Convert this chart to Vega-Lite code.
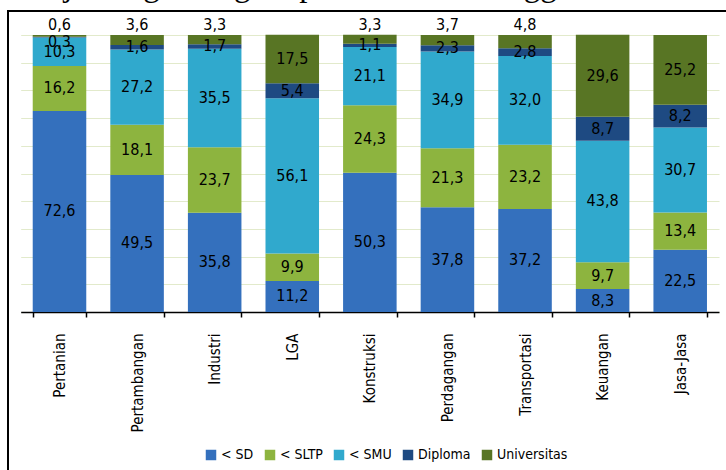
{
  "$schema": "https://vega.github.io/schema/vega-lite/v6.json",
  "autosize": "none",
  "width": 730,
  "height": 470,
  "padding": {"left": 8, "top": 11, "right": 0, "bottom": 0},
  "background": "white",
  "title": {
    "text": "erja dengan tingkat pendidikan tertinggi",
    "anchor": "start",
    "frame": "group",
    "font": "Liberation Serif",
    "fontSize": 33,
    "fontWeight": "normal",
    "color": "black",
    "baseline": "alphabetic",
    "offset": 0,
    "dy": 18,
    "dx": 30
  },
  "config": {
    "view": {"stroke": "black", "strokeWidth": 2},
    "font": "DejaVu Sans Condensed"
  },
  "data": {
    "values": [
      {"sektor": "Pertanian", "pendidikan": "< SD", "order": 1, "value": 72.6},
      {"sektor": "Pertanian", "pendidikan": "< SLTP", "order": 2, "value": 16.2},
      {"sektor": "Pertanian", "pendidikan": "< SMU", "order": 3, "value": 10.3},
      {"sektor": "Pertanian", "pendidikan": "Diploma", "order": 4, "value": 0.3},
      {"sektor": "Pertanian", "pendidikan": "Universitas", "order": 5, "value": 0.6},
      {"sektor": "Pertambangan", "pendidikan": "< SD", "order": 1, "value": 49.5},
      {"sektor": "Pertambangan", "pendidikan": "< SLTP", "order": 2, "value": 18.1},
      {"sektor": "Pertambangan", "pendidikan": "< SMU", "order": 3, "value": 27.2},
      {"sektor": "Pertambangan", "pendidikan": "Diploma", "order": 4, "value": 1.6},
      {"sektor": "Pertambangan", "pendidikan": "Universitas", "order": 5, "value": 3.6},
      {"sektor": "Industri", "pendidikan": "< SD", "order": 1, "value": 35.8},
      {"sektor": "Industri", "pendidikan": "< SLTP", "order": 2, "value": 23.7},
      {"sektor": "Industri", "pendidikan": "< SMU", "order": 3, "value": 35.5},
      {"sektor": "Industri", "pendidikan": "Diploma", "order": 4, "value": 1.7},
      {"sektor": "Industri", "pendidikan": "Universitas", "order": 5, "value": 3.3},
      {"sektor": "LGA", "pendidikan": "< SD", "order": 1, "value": 11.2},
      {"sektor": "LGA", "pendidikan": "< SLTP", "order": 2, "value": 9.9},
      {"sektor": "LGA", "pendidikan": "< SMU", "order": 3, "value": 56.1},
      {"sektor": "LGA", "pendidikan": "Diploma", "order": 4, "value": 5.4},
      {"sektor": "LGA", "pendidikan": "Universitas", "order": 5, "value": 17.5},
      {"sektor": "Konstruksi", "pendidikan": "< SD", "order": 1, "value": 50.3},
      {"sektor": "Konstruksi", "pendidikan": "< SLTP", "order": 2, "value": 24.3},
      {"sektor": "Konstruksi", "pendidikan": "< SMU", "order": 3, "value": 21.1},
      {"sektor": "Konstruksi", "pendidikan": "Diploma", "order": 4, "value": 1.1},
      {"sektor": "Konstruksi", "pendidikan": "Universitas", "order": 5, "value": 3.3},
      {"sektor": "Perdagangan", "pendidikan": "< SD", "order": 1, "value": 37.8},
      {"sektor": "Perdagangan", "pendidikan": "< SLTP", "order": 2, "value": 21.3},
      {"sektor": "Perdagangan", "pendidikan": "< SMU", "order": 3, "value": 34.9},
      {"sektor": "Perdagangan", "pendidikan": "Diploma", "order": 4, "value": 2.3},
      {"sektor": "Perdagangan", "pendidikan": "Universitas", "order": 5, "value": 3.7},
      {"sektor": "Transportasi", "pendidikan": "< SD", "order": 1, "value": 37.2},
      {"sektor": "Transportasi", "pendidikan": "< SLTP", "order": 2, "value": 23.2},
      {"sektor": "Transportasi", "pendidikan": "< SMU", "order": 3, "value": 32.0},
      {"sektor": "Transportasi", "pendidikan": "Diploma", "order": 4, "value": 2.8},
      {"sektor": "Transportasi", "pendidikan": "Universitas", "order": 5, "value": 4.8},
      {"sektor": "Keuangan", "pendidikan": "< SD", "order": 1, "value": 8.3},
      {"sektor": "Keuangan", "pendidikan": "< SLTP", "order": 2, "value": 9.7},
      {"sektor": "Keuangan", "pendidikan": "< SMU", "order": 3, "value": 43.8},
      {"sektor": "Keuangan", "pendidikan": "Diploma", "order": 4, "value": 8.7},
      {"sektor": "Keuangan", "pendidikan": "Universitas", "order": 5, "value": 29.6},
      {"sektor": "Jasa-Jasa", "pendidikan": "< SD", "order": 1, "value": 22.5},
      {"sektor": "Jasa-Jasa", "pendidikan": "< SLTP", "order": 2, "value": 13.4},
      {"sektor": "Jasa-Jasa", "pendidikan": "< SMU", "order": 3, "value": 30.7},
      {"sektor": "Jasa-Jasa", "pendidikan": "Diploma", "order": 4, "value": 8.2},
      {"sektor": "Jasa-Jasa", "pendidikan": "Universitas", "order": 5, "value": 25.2}
    ]
  },
  "encoding": {
    "x": {
      "field": "sektor",
      "type": "nominal",
      "sort": null,
      "title": null,
      "scale": {"range": [12.7, 711], "paddingInner": 0.31, "paddingOuter": 0.155},
      "axis": {
        "orient": "bottom",
        "offset": -169,
        "labelAngle": -90,
        "labelAlign": "right",
        "labelBaseline": "middle",
        "labelFontSize": 15,
        "labelFont": "DejaVu Sans Condensed",
        "labelColor": "black",
        "labelPadding": 16,
        "tickBand": "extent",
        "tickColor": "black",
        "tickSize": 5,
        "tickWidth": 1.5,
        "domainColor": "black",
        "domainWidth": 1.5,
        "grid": false
      }
    }
  },
  "layer": [
    {
      "mark": {"type": "bar"},
      "encoding": {
        "y": {
          "field": "value",
          "type": "quantitative",
          "stack": "zero",
          "scale": {"domain": [0, 100], "range": [301, 24], "nice": false, "zero": true},
          "axis": {
            "title": null,
            "labels": false,
            "ticks": false,
            "domain": false,
            "grid": true,
            "gridColor": "#e2eacb",
            "gridWidth": 1.2,
            "values": [0, 10, 20, 30, 40, 50, 60, 70, 80, 90, 100]
          }
        },
        "order": {"field": "order", "type": "quantitative", "sort": "ascending"},
        "color": {
          "field": "pendidikan",
          "type": "nominal",
          "scale": {
            "domain": ["< SD", "< SLTP", "< SMU", "Diploma", "Universitas"],
            "range": ["#3470bd", "#8db43f", "#30a9cd", "#1e4a82", "#587524"]
          },
          "legend": {
            "title": null,
            "orient": "none",
            "direction": "horizontal",
            "legendX": 196,
            "legendY": 437,
            "symbolType": "square",
            "symbolSize": 110,
            "symbolStrokeWidth": 0,
            "labelFontSize": 14,
            "labelFont": "DejaVu Sans Condensed",
            "labelColor": "black",
            "labelOffset": 3,
            "columnPadding": 9
          }
        }
      }
    },
    {
      "transform": [
        {"stack": "value", "groupby": ["sektor"], "sort": [{"field": "order", "order": "ascending"}], "as": ["v0", "v1"]},
        {"calculate": "datum.pendidikan == 'Universitas' && datum.value < 5 ? 103.6 : (datum.pendidikan == 'Diploma' && datum.value < 1 ? 97.6 : (datum.v0 + datum.v1) / 2)", "as": "ly"},
        {"calculate": "replace(format(datum.value, '.1f'), '.', ',')", "as": "lbl"}
      ],
      "mark": {"type": "text", "fontSize": 16, "font": "DejaVu Sans Condensed", "color": "black", "baseline": "middle", "align": "center"},
      "encoding": {
        "y": {"field": "ly", "type": "quantitative"},
        "text": {"field": "lbl", "type": "nominal"}
      }
    }
  ]
}
